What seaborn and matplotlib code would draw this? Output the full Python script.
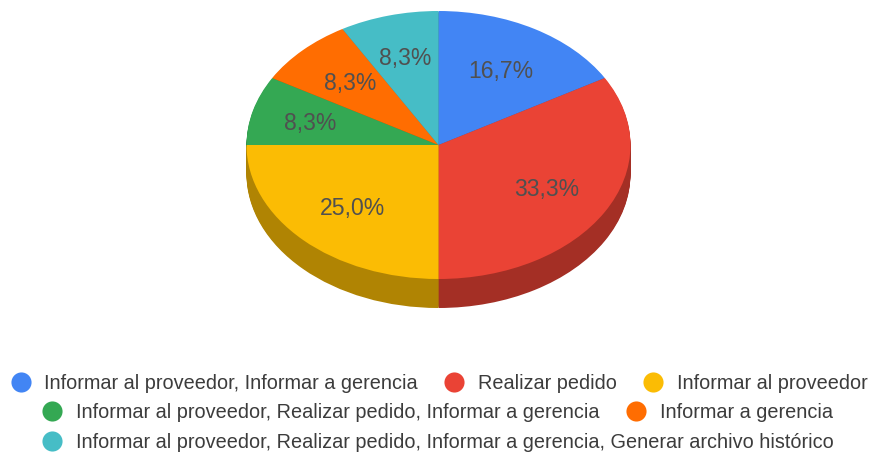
import matplotlib
matplotlib.use("Agg")
import matplotlib.pyplot as plt
import seaborn as sns
from matplotlib.colors import to_rgb

sns.set_theme(style="white")
plt.rcParams['font.family'] = ['Liberation Sans', 'DejaVu Sans']

categories = ["Informar al proveedor, Informar a gerencia", "Realizar pedido",
              "Informar al proveedor",
              "Informar al proveedor, Realizar pedido, Informar a gerencia",
              "Informar a gerencia",
              "Informar al proveedor, Realizar pedido, Informar a gerencia, Generar archivo histórico"]
values = [2, 4, 3, 1, 1, 1]
colors = ["#4285F4", "#EA4335", "#FBBC04", "#34A853", "#FF6D01", "#46BDC6"]
W, H = 871, 453
CX, CY, RX, RY, DEPTH = 438.5, 145, 192, 134, 29
legend_rows = [(20.5, 44, 0), (453.5, 478, 0), (652.5, 677, 0),
               (52, 76, 1), (636, 660, 1), (52, 76, 2)]
row_y = [382, 411, 441]
label_dx = [0, 0, 2, -8, 0, -1]
label_dy = [1.5, 1, 1.5, 1.5, 0.5, -2]
text_c = "#505050"

fig = plt.figure(figsize=(W/100, H/100), dpi=100, facecolor="white")
m = 1.1
ax = fig.add_axes([(CX-RX*m)/W, 1-(CY+RY*m+60)/H, 2*RX*m/W, (2*RY*m+60)/H])
ax.set_xlim(-m, m)
ylo = -m-60/RY
ax.set_ylim(ylo, m)
ax.axis("off")

dark = [tuple(c*0.7 for c in to_rgb(col)) for col in colors]
for d in range(DEPTH, 0, -1):
    ax.pie(values, colors=dark, startangle=90, counterclock=False, radius=1,
           center=(0, -d/RY), wedgeprops=dict(linewidth=0), normalize=True)
_, _, auto = ax.pie(values, colors=colors, startangle=90, counterclock=False, radius=1,
       autopct=lambda p: f"{p:.1f}%".replace(".", ","), pctdistance=0.65,
       wedgeprops=dict(linewidth=0),
       textprops=dict(color=text_c, fontsize=16.6))
for t, dx, dy in zip(auto, label_dx, label_dy):
    t.set_x(t.get_position()[0] + dx/RX)
    t.set_y(t.get_position()[1] - dy/RY)
ax.set_aspect("auto")
ax.set_xlim(-m, m)
ax.set_ylim(ylo, m)

lg = fig.add_axes([0, 0, 1, 1], facecolor="none")
lg.set_xlim(0, W); lg.set_ylim(H, 0); lg.axis("off")
for cat, col, (mx, tx, r) in zip(categories, colors, legend_rows):
    sns.scatterplot(x=[mx], y=[row_y[r]], color=col, s=210, linewidth=0, ax=lg, legend=False)
    lg.text(tx, row_y[r] + 1.5, cat, va="center", ha="left", fontsize=14.35, color="#3c3c3c")
lg.set_xlim(0, W); lg.set_ylim(H, 0); lg.axis("off")
fig.savefig("out.png", dpi=100)
